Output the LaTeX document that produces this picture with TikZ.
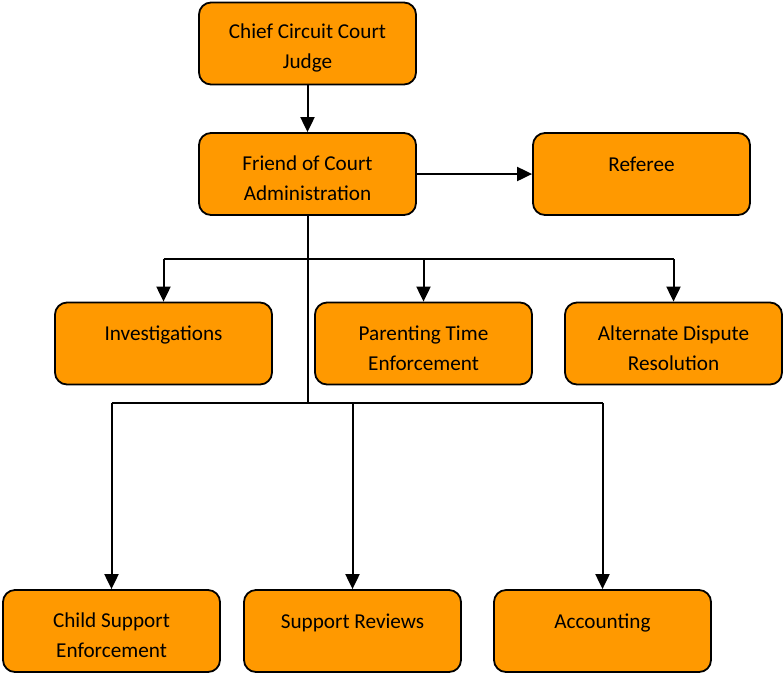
\documentclass[tikz,border=0pt]{standalone}
\usepackage{fontspec}
\setmainfont{Carlito}
\usetikzlibrary{arrows.meta}
\definecolor{orgfill}{HTML}{FF9900}
\newcommand{\padtop}{\rule{0pt}{24pt}}
\tikzset{
  orgbox/.style={draw,line width=1.8pt,fill=orgfill,rounded corners=12pt,
    minimum width=217pt,minimum height=82pt,align=center,
    font=\fontsize{21.2}{30}\selectfont},
  link/.style={line width=2pt}
}
\begin{document}
\begin{tikzpicture}[x=1pt,y=-1pt,>={Triangle[length=15pt,width=14pt]}]
  \useasboundingbox (0,0) rectangle (783,673);
  % top of the chart
  \node[orgbox] (judge) at (307.5,43.5) {\padtop Chief Circuit Court\\Judge};
  \node[orgbox] (foc) at (307.5,174) {\padtop Friend of Court\\Administration};
  \node[orgbox] (referee) at (641.5,174) {\padtop Referee\\\mbox{}};
  % middle row
  \node[orgbox] (invest) at (163.5,343.5) {\padtop Investigations\\\mbox{}};
  \node[orgbox] (parent) at (423.5,343.5) {\padtop Parenting Time\\Enforcement};
  \node[orgbox] (adr) at (673.5,343.5) {\padtop Alternate Dispute\\Resolution};
  % bottom row
  \node[orgbox] (childsup) at (111.5,631) {\padtop Child Support\\Enforcement};
  \node[orgbox] (reviews) at (352.5,631) {\padtop Support Reviews\\\mbox{}};
  \node[orgbox] (acct) at (602.5,631) {\padtop Accounting\\\mbox{}};
  % connectors
  \coordinate (midbus) at (307.5,259);
  \coordinate (lowbus) at (307.5,403);
  \draw[link,->] (judge) -- (foc);
  \draw[link,->] (foc) -- (referee);
  \draw[link] (foc.south) -- (lowbus);
  \draw[link] (invest.north |- midbus) -- (adr.north |- midbus);
  \draw[link,->] (invest.north |- midbus) -- (invest.north);
  \draw[link,->] (parent.north |- midbus) -- (parent.north);
  \draw[link,->] (adr.north |- midbus) -- (adr.north);
  \draw[link] (childsup.north |- lowbus) -- (acct.north |- lowbus);
  \draw[link,->] (childsup.north |- lowbus) -- (childsup.north);
  \draw[link,->] (reviews.north |- lowbus) -- (reviews.north);
  \draw[link,->] (acct.north |- lowbus) -- (acct.north);
\end{tikzpicture}
\end{document}
